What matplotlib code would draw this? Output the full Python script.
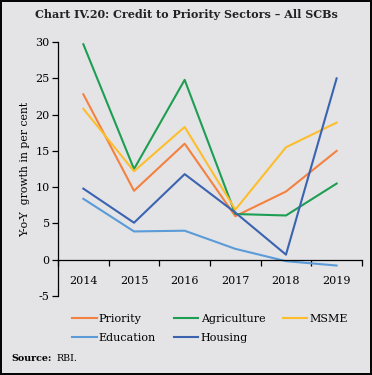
# Chart IV.20: Credit to Priority Sectors - All SCBs
import numpy as np
import matplotlib.pyplot as plt
from matplotlib.patches import Rectangle

# data
years = ['2014', '2015', '2016', '2017', '2018', '2019']
priority = [22.8, 9.5, 16.0, 6.0, 9.4, 15.0]
agriculture = [29.7, 12.5, 24.8, 6.3, 6.1, 10.5]
msme = [20.8, 12.2, 18.3, 6.9, 15.5, 18.9]
education = [8.4, 3.9, 4.0, 1.5, -0.2, -0.8]
housing = [9.8, 5.1, 11.8, 6.5, 0.7, 25.0]

series = [
    ('Priority', priority, '#F4813F'),
    ('Agriculture', agriculture, '#1E9E52'),
    ('MSME', msme, '#FDBE2E'),
    ('Education', education, '#5A9BD8'),
    ('Housing', housing, '#3B63B0'),
]

bg = '#E4E4E6'
plt.rcParams['font.family'] = ['DejaVu Serif']

fig = plt.figure(figsize=(3.72, 3.75), dpi=100)
fig.patch.set_facecolor(bg)
# black frame round the whole figure
fig.add_artist(Rectangle((0.003, 0.003), 0.994, 0.994, transform=fig.transFigure,
                         fill=False, edgecolor='black', linewidth=1.4))

ax = fig.add_axes([0.156, 0.2107, 0.817, 0.677])
ax.set_facecolor(bg)

x = np.arange(len(years))
lines = {}
for name, vals, col in series:
    lines[name], = ax.plot(x, vals, color=col, linewidth=1.5, label=name)

ax.set_xlim(-0.5, 5.5)
ax.set_ylim(-5, 30)
ax.set_yticks([-5, 0, 5, 10, 15, 20, 25, 30])
ax.set_yticklabels(['-5', '0', '5', '10', '15', '20', '25', '30'])

ax.spines['top'].set_visible(False)
ax.spines['right'].set_visible(False)
ax.spines['bottom'].set_position(('data', 0))
ax.spines['left'].set_linewidth(0.9)
ax.spines['bottom'].set_linewidth(0.9)

ax.set_xticks(x)
ax.set_xticklabels(years)
ax.set_xticks(np.arange(-0.5, 6, 1), minor=True)
ax.tick_params(axis='x', which='major', length=0, pad=11.5, labelsize=8)
ax.tick_params(axis='x', which='minor', length=4, width=0.9, direction='out')
ax.tick_params(axis='y', length=4, width=0.9, labelsize=8, pad=2)

ax.set_ylabel('Y-o-Y  growth in per cent', fontsize=7.8, labelpad=4)

fig.text(0.5, 0.962, 'Chart IV.20: Credit to Priority Sectors \u2013 All SCBs',
         ha='center', va='center', fontsize=8.0, fontweight='bold', color='#222222')

# legend filled column by column, so order gives rows
order = ['Priority', 'Education', 'Agriculture', 'Housing', 'MSME']
fig.legend([lines[n] for n in order], order, loc='center',
           bbox_to_anchor=(0.565, 0.125), ncol=3, frameon=False,
           fontsize=8, handlelength=2.2, handletextpad=0.2, columnspacing=1.6,
           labelspacing=0.8)

fig.text(0.03, 0.043, 'Source:', fontsize=6.8, fontweight='bold', va='center')
fig.text(0.152, 0.043, 'RBI.', fontsize=6.8, va='center')

fig.savefig('out.png', dpi=100, facecolor=bg)
